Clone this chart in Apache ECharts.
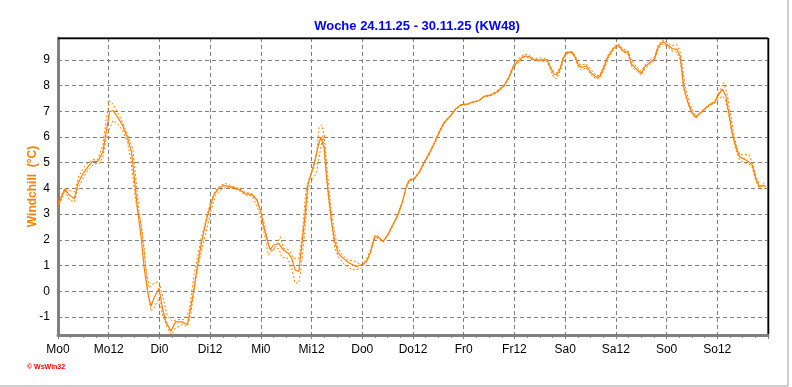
<!DOCTYPE html>
<html>
<head>
<meta charset="utf-8">
<script src="https://cdn.jsdelivr.net/npm/echarts@6/dist/echarts.min.js"></script>
<style>
html,body{margin:0;padding:0;background:#fff;}
#c{width:792px;height:387px;}
</style>
</head>
<body>
<div id="c"></div>
<script>
// Title and labels
var chartTitle = 'Woche 24.11.25 - 30.11.25 (KW48)';
var yAxisName = 'Windchill  (°C)';
var tickLabels = ['Mo0','Mo12','Di0','Di12','Mi0','Mi12','Do0','Do12','Fr0','Fr12','Sa0','Sa12','So0','So12'];

// [hour since Mo0, windchill °C] — solid line
var windchill = [
[0,3.35],[1.6,3.97],[2.7,3.74],[3.9,3.6],[4.7,4.19],[5.9,4.57],[7,4.83],[8.2,5.05],[9.4,5.05],[10.6,5.41],[11.4,6.19],[12.2,6.99],[13,7.03],[14.1,6.77],[15.3,6.45],[16.5,5.93],[17.4,5.41],[18,4.5],[18.8,3.2],[19.6,2.19],[20.4,0.9],[21.2,0],[22,-0.59],[22.7,-0.26],[23.9,0.12],[24.7,-0.65],[25.5,-1.17],[26.7,-1.55],[27.8,-1.19],[29.4,-1.19],[30.6,-1.3],[31.4,-0.65],[32.2,0.12],[32.9,0.9],[33.7,1.67],[34.5,2.32],[35.3,2.9],[36.1,3.35],[36.9,3.76],[38,4.0],[39.2,4.12],[40.8,4.06],
[42.7,3.97],[44.3,3.8],[45.9,3.76],[47.1,3.54],[48,3.09],[48.6,2.57],[49.4,2.06],[50.2,1.61],[51,1.8],[52.2,1.86],[53.3,1.61],[54.5,1.48],[55.3,1.28],[56.1,0.83],[57,0.77],[57.6,1.67],[58.3,2.7],[59.1,4.12],[60,4.64],[60.9,5.15],[61.6,5.67],[62.2,6.0],[63,5.54],[63.5,4.5],[64.2,3.48],[64.7,2.7],[65.5,1.93],[66.3,1.48],[67.5,1.28],[69,1.09],[70.6,0.96],[71.8,1.03],[73,1.15],[74,1.54],[74.9,2.12],[75.7,2.12],[76.9,1.93],[78,2.19],[79.2,2.57],[80.4,2.96],[81.5,3.48],[82.4,4.06],[83.1,4.32],[84.3,4.38],[85.5,4.64],[86.7,5.03],[87.8,5.35],[89,5.74],[90.2,6.19],[91.4,6.57],[92.9,6.83],[94.1,7.09],[95.3,7.25],[96.9,7.28],[98,7.35],[99.6,7.41],[100.8,7.58],[102.4,7.63],[103.9,7.76],[105.5,7.99],[106.7,8.32],[107.8,8.77],[109,8.96],[110.2,9.15],[111.4,9.13],[112.5,9.0],[114.1,9.0],[115.7,9.0],[116.5,8.7],[117.3,8.45],[118,8.41],[118.8,8.64],[119.6,9.09],[120.4,9.28],[121.6,9.31],[122.4,9.09],[123.2,8.77],[124,8.70],[125,8.77],[126.2,8.48],[127.4,8.32],[128.2,8.35],[129,8.64],[130.2,9.15],[131.4,9.44],[132.6,9.57],[133.7,9.35],[134.9,9.28],[135.7,8.83],[136.9,8.64],[138,8.47],[138.9,8.74],[140.1,8.9],[141.1,9.03],[142.1,9.54],[143.1,9.7],[144.1,9.6],[145.3,9.44],[146.4,9.41],[147.2,9.15],[147.6,8.64],[148,7.99],[148.6,7.61],[149.2,7.28],[150,6.96],[150.9,6.77],[152,6.94],[153,7.09],[154.2,7.26],[155.4,7.35],[156.4,7.67],[157.2,7.86],[158,7.61],[158.7,6.96],[159.5,6.19],[160.3,5.67],[161.3,5.22],[162.3,5.15],[163.5,5.03],[164.3,4.9],[165.1,4.38],[166,4.06],[167.1,4.12],[167.5,4.06]
];

// upper dotted line
var windchillMax = [
[0,3.48],[1.6,4.0],[2.7,3.93],[3.9,3.86],[5,4.5],[6.5,4.9],[8.2,5.13],[9.4,5.13],[10.6,5.67],[11.4,6.7],[12.2,7.41],[13,7.28],[14.1,6.96],[15.3,6.57],[16.5,6.06],[17.7,5.54],[18.5,4.25],[19.2,3.09],[20,2.06],[20.8,0.9],[21.6,0.12],[22.7,0.32],[23.9,0.38],[24.7,-0.14],[25.9,-0.97],[27.1,-1.17],[28.2,-1.1],[29.8,-1.1],[31,-0.78],[32.2,0.64],[33.7,1.93],[34.9,2.7],[36.1,3.48],[37.3,3.93],[38.4,4.12],[39.6,4.19],[40.8,4.12],
[42.7,4.0],[44.3,3.85],[45.9,3.8],[47,3.6],[48.6,2.77],[49.8,1.8],[50.6,1.54],[51.8,1.8],[52.6,2.12],[53.4,1.67],[54.6,1.61],[55.8,1.28],[57,1.28],[57.8,2.19],[58.6,3.86],[59.4,4.38],[60.6,4.83],[61.3,5.54],[61.8,6.38],[62.4,6.47],[63,6.06],[63.8,4.5],[64.6,3.2],[65.4,2.32],[66.2,1.67],[67.3,1.41],[68.5,1.22],[70.1,1.18],[71.8,1.03],[73,1.28],[74.2,1.67],[75,2.19],[75.7,2.15],[76.9,1.95],[78,2.2],[79.2,2.6],[80.4,3.0],[81.5,3.5],[82.4,4.1],[83.1,4.35],[84.3,4.4],[85.5,4.66],[86.7,5.05],[87.8,5.4],[89,5.78],[90.2,6.22],[91.4,6.6],[92.9,6.85],[94.1,7.1],[95.3,7.26],[96.9,7.29],[98,7.36],[99.6,7.42],[100.8,7.6],[102.4,7.65],[103.9,7.8],[105.5,8.02],[106.7,8.35],[107.8,8.82],[109,9.05],[110.2,9.22],[111.4,9.2],[112.5,9.05],[114.1,9.08],[115.7,9.05],[116.5,8.75],[117.3,8.55],[118,8.5],[118.8,8.72],[119.6,9.12],[120.4,9.3],[121.6,9.33],[122.4,9.15],[123.2,8.85],[124,8.8],[125,8.85],[126.2,8.6],[127.4,8.38],[128.2,8.4],[129,8.72],[130.2,9.2],[131.4,9.5],[132.6,9.62],[133.7,9.42],[134.9,9.35],[135.7,9.0],[136.9,8.72],[138,8.55],[138.9,8.8],[140.1,9.0],[141.1,9.1],[142.1,9.62],[143.1,9.77],[144.1,9.68],[145.3,9.55],[146.4,9.6],[147.2,9.3],[147.8,8.7],[148.3,8.05],[148.9,7.65],[149.5,7.3],[150.3,6.98],[151,6.8],[152,6.97],[153,7.12],[154.2,7.28],[155.4,7.4],[156.4,7.75],[157.5,8.12],[158.3,7.7],[159,7.0],[159.8,6.2],[160.6,5.6],[161.3,5.31],[163.5,5.31],[164.5,4.9],[165.3,4.4],[166.2,4.1],[167,4.2],[167.5,4.15]
];

// lower dotted line
var windchillMin = [
[0,3.22],[1.6,3.93],[2.7,3.54],[3.9,3.48],[4.7,4.0],[5.9,4.38],[7,4.7],[8.6,4.96],[9.8,4.96],[10.6,5.22],[11.4,5.93],[12.2,6.32],[13,6.64],[14.1,6.51],[15.3,6.25],[16.5,5.74],[17.2,5.15],[18.4,3.48],[19.6,2.7],[20.4,1.67],[21.2,0],[22,-0.78],[22.7,-0.65],[23.9,-0.26],[24.7,-0.9],[25.9,-1.43],[26.7,-1.68],[27.8,-1.43],[29.4,-1.3],[30.6,-1.36],[31.4,-0.9],[32.5,0.38],[33.7,1.41],[34.9,2.19],[36.1,3.09],[37.3,3.74],[38.4,3.93],[40,4.06],
[42.7,3.93],[44.3,3.75],[45.9,3.7],[47.1,3.3],[47.8,2.96],[48.6,2.4],[49.8,1.41],[51,1.67],[52.2,1.67],[53,1.31],[54.2,1.31],[55.3,0.9],[56.1,0.32],[57,0.32],[57.6,1.03],[58.4,2.32],[59.2,4.0],[60.4,4.38],[61.2,4.64],[62,5.41],[62.7,6.06],[63.3,5.02],[63.9,3.74],[64.7,2.7],[65.5,1.67],[66.3,1.35],[67.5,1.09],[69,0.9],[70.2,0.83],[71.8,0.9],[73.3,1.28],[74.5,1.9],[75.2,2.1],[76.9,1.9],[78,2.15],[79.2,2.55],[80.4,2.93],[81.5,3.45],[82.4,4.02],[83.1,4.28],[84.3,4.35],[85.5,4.6],[86.7,4.98],[87.8,5.3],[89,5.7],[90.2,6.15],[91.4,6.52],[92.9,6.8],[94.1,7.06],[95.3,7.22],[96.9,7.27],[98,7.33],[99.6,7.4],[100.8,7.56],[102.4,7.6],[103.9,7.72],[105.5,7.95],[106.7,8.28],[107.8,8.72],[109,8.9],[110.2,9.1],[111.4,9.08],[112.5,8.97],[114.1,8.95],[115.7,8.95],[116.5,8.62],[117.3,8.3],[118,8.28],[118.8,8.55],[119.6,9.0],[120.4,9.22],[121.6,9.28],[122.4,9.02],[123.2,8.68],[124,8.6],[125,8.7],[126.2,8.4],[127.4,8.25],[128.2,8.3],[129,8.55],[130.2,9.05],[131.4,9.38],[132.6,9.52],[133.7,9.3],[134.9,9.22],[135.7,8.75],[136.9,8.55],[138,8.4],[138.9,8.65],[140.1,8.82],[141.1,8.98],[142.1,9.45],[143.1,9.62],[144.1,9.52],[145.3,9.35],[146.4,9.3],[147.2,9.0],[147.6,8.5],[148,7.9],[148.6,7.55],[149.2,7.2],[150,6.9],[150.9,6.72],[152,6.9],[153,7.05],[154.2,7.22],[155.4,7.3],[156.4,7.5],[157.2,7.6],[158,7.4],[158.7,6.85],[159.5,6.1],[160.3,5.55],[161.3,5.1],[162.3,5.0],[163.5,4.95],[164.3,4.8],[165.1,4.3],[166,3.98],[167,3.98],[167.5,4.05]
];

var chart = echarts.init(document.getElementById('c'), null, {renderer:'canvas'});
var FONT = '"Liberation Sans", Arial, sans-serif';
var ORANGE = '#ff8000';
var dotted = {color: ORANGE, width: 1, type: [2, 2]};

chart.setOption({
  animation: false,
  backgroundColor: '#ffffff',
  title: {
    text: chartTitle,
    left: 412, textAlign: 'center', top: 15,
    textStyle: {color: '#0000ff', fontSize: 13, fontWeight: 'bold', fontFamily: FONT}
  },
  grid: {
    left: 58, right: 24, top: 38, bottom: 52,
    show: true, borderColor: '#000000', borderWidth: 1, backgroundColor: '#ffffff'
  },
  xAxis: {
    type: 'value', min: 0, max: 168, interval: 12,
    axisLine: {onZero: false, lineStyle: {color: '#808080', width: 3}},
    axisTick: {show: true, length: 4, lineStyle: {color: '#808080', width: 1}},
    minorTick: {show: true, splitNumber: 4, length: 3, lineStyle: {color: '#808080', width: 1}},
    axisLabel: {
      margin: 9, color: '#000', fontSize: 12, fontFamily: FONT,
      formatter: function (v) { var i = Math.round(v / 12); return i < tickLabels.length ? tickLabels[i] : ''; }
    },
    splitLine: {show: true, lineStyle: {color: '#808080', type: [4, 3], width: 1}}
  },
  yAxis: {
    type: 'value', min: -1.7, max: 9.85, splitNumber: 10,
    name: yAxisName, nameLocation: 'middle', nameGap: 19, nameRotate: 90,
    nameMoveOverlap: false,
    nameTextStyle: {color: ORANGE, fontSize: 12, fontWeight: 'bold', fontFamily: FONT},
    axisLine: {onZero: false, lineStyle: {color: '#808080', width: 3}},
    axisTick: {show: false},
    axisLabel: {
      margin: 8, color: '#000', fontSize: 12, fontFamily: FONT,
      showMinLabel: false, showMaxLabel: false,
      formatter: function (v) { return (Math.abs(v - Math.round(v)) < 1e-6) ? String(Math.round(v)) : ''; }
    },
    splitLine: {show: true, lineStyle: {color: '#808080', type: [4, 3], width: 1}}
  },
  series: [
    {name: 'max', type: 'line', data: windchillMax, showSymbol: false, lineStyle: dotted, z: 3},
    {name: 'min', type: 'line', data: windchillMin, showSymbol: false, lineStyle: dotted, z: 3},
    {name: 'Windchill', type: 'line', data: windchill, showSymbol: false, lineStyle: {color: ORANGE, width: 1.2}, z: 4}
  ],
  graphic: [
    {type: 'line', z: 100, shape: {x1: 58, y1: 38.5, x2: 768.5, y2: 38.5}, style: {stroke: '#000000', lineWidth: 1.5}},
    {type: 'line', z: 100, shape: {x1: 768.5, y1: 38, x2: 768.5, y2: 334}, style: {stroke: '#000000', lineWidth: 1.5}},
    {type: 'text', left: 27, top: 364, style: {text: '© WsWin32', fill: '#ff0000', font: 'bold 7px ' + FONT}},
    {type: 'line', shape: {x1: 0, y1: 386, x2: 788, y2: 386}, style: {stroke: '#a0a0a0', lineWidth: 1}},
    {type: 'line', shape: {x1: 788, y1: 0, x2: 788, y2: 386}, style: {stroke: '#a0a0a0', lineWidth: 1}}
  ]
});
</script>
</body>
</html>
